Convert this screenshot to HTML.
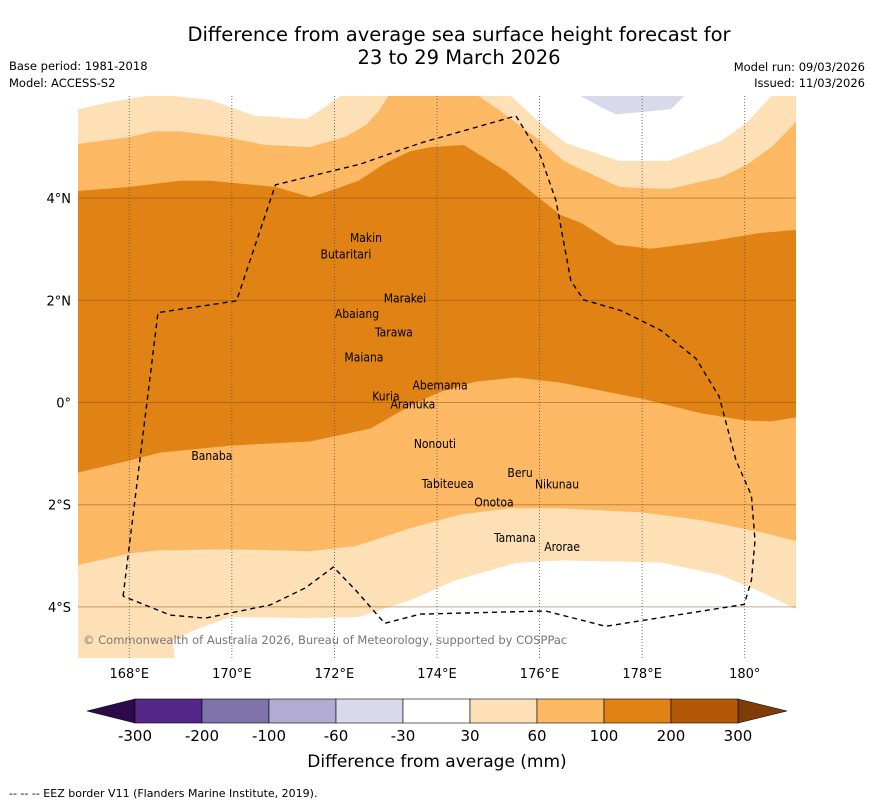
<!DOCTYPE html>
<html><head><meta charset="utf-8">
<style>
html,body{margin:0;padding:0;background:#fff;}
body{width:873px;height:804px;overflow:hidden;font-family:"DejaVu Sans","Liberation Sans",sans-serif;}
svg{display:block;}
</style></head>
<body>
<svg id="chart" width="873" height="804" viewBox="0 0 873 804">
<text x="459" y="41" font-size="19.5" text-anchor="middle" fill="#000">Difference from average sea surface height forecast for</text>
<text x="459" y="64" font-size="19.5" text-anchor="middle" fill="#000">23 to 29 March 2026</text>
<text x="9" y="70" font-size="11.5">Base period: 1981-2018</text>
<text x="9" y="87" font-size="11.5">Model: ACCESS-S2</text>
<text x="865" y="71" font-size="11.5" text-anchor="end">Model run: 09/03/2026</text>
<text x="865" y="87" font-size="11.5" text-anchor="end">Issued: 11/03/2026</text>
<defs><clipPath id="mapclip"><rect x="78" y="96" width="718" height="562"/></clipPath></defs>
<g id="map" clip-path="url(#mapclip)">
<rect x="78" y="96" width="718" height="562" fill="#fff"/>
</g>
<text x="83" y="644" font-size="11.5" fill="#777">© Commonwealth of Australia 2026, Bureau of Meteorology, supported by COSPPac</text>
<g id="axes"></g>
<g id="colorbar"></g>
<text x="437" y="767" font-size="17" text-anchor="middle">Difference from average (mm)</text>
<text x="9" y="797" font-size="11">--  --  -- EEZ border V11 (Flanders Marine Institute, 2019).</text>
</svg>
<script>
const lonMin = 167, lonMax = 181, latMin = -5, latMax = 6;
const xTicks = [168, 170, 172, 174, 176, 178, 180];
const xTickLabels = ["168°E", "170°E", "172°E", "174°E", "176°E", "178°E", "180°"];
const yTicks = [4, 2, 0, -2, -4];
const yTickLabels = ["4°N", "2°N", "0°", "2°S", "4°S"];
const paleTop = [[167,5.74],[167.63,5.88],[168.31,6],[168.89,6],[169.58,5.92],[170.46,5.61],[171.47,5.55],[172.12,6],[175.44,6],[176.02,5.47],[176.51,5.08],[177.55,4.73],[178.52,4.73],[179.54,5.12],[180.03,5.47],[180.52,6],[181,6]];
const paleBottom = [[167,-5],[168.89,-5],[168.84,-4.65],[169.38,-4.41],[169.97,-4.2],[171.53,-4.22],[172.47,-4.2],[173.48,-3.87],[174.36,-3.48],[175.54,-3.14],[176.41,-3.09],[178.37,-3.13],[179.54,-3.38],[180.32,-3.71],[181,-4.04]];
const lightTop = [[167,5.06],[168.02,5.2],[168.5,5.31],[168.99,5.31],[169.97,5.18],[170.65,5.04],[171.53,5.0],[172.21,5.2],[172.61,5.43],[172.86,5.7],[173.05,6],[174.81,6],[175.24,5.7],[176.02,5.12],[176.47,4.73],[176.8,4.57],[177.55,4.22],[178.52,4.18],[179.54,4.41],[180.03,4.65],[180.52,5.0],[181,5.49]];
const lightBottom = [[167,-3.18],[168.02,-2.95],[168.6,-2.89],[169.97,-2.87],[171.53,-2.91],[172.41,-2.81],[173.48,-2.46],[174.46,-2.19],[175.44,-2.07],[176.41,-2.07],[177.98,-2.15],[179.15,-2.3],[180.32,-2.54],[181,-2.71]];
const darkTop = [[167,4.14],[168.02,4.22],[168.99,4.34],[169.58,4.34],[170.85,4.22],[171.53,4.02],[172.02,4.18],[172.47,4.34],[173.0,4.69],[173.48,4.92],[173.88,5.0],[174.52,5.04],[175.34,4.53],[176.02,3.98],[176.41,3.67],[176.8,3.52],[177.49,3.09],[178.17,3.01],[179.34,3.16],[180.32,3.32],[181,3.38]];
const darkBottom = [[167,-1.37],[168.02,-1.13],[168.6,-0.98],[170.0,-0.84],[171.53,-0.76],[172.7,-0.51],[173.48,-0.06],[174.07,0.21],[174.75,0.41],[175.54,0.49],[176.41,0.39],[177.98,0.08],[179.15,-0.21],[180.0,-0.35],[180.52,-0.37],[181,-0.29]];
const lavender = [[176.8,6],[178.82,6],[178.56,5.74],[177.49,5.64],[177.2,5.78]];
const eez = [[167.88,-3.79],[168.56,1.76],[170.09,1.99],[170.85,4.26],[172.51,4.67],[173.68,5.08],[175.54,5.61],[176.02,4.82],[176.32,3.95],[176.61,2.38],[176.86,2.01],[177.59,1.8],[178.37,1.41],[179.05,0.86],[179.5,0.12],[179.83,-1.13],[180.13,-1.82],[180.2,-2.7],[180.13,-3.48],[179.99,-3.95],[177.29,-4.38],[176.12,-4.08],[173.68,-4.14],[172.98,-4.32],[172.41,-3.67],[171.98,-3.22],[171.43,-3.63],[170.75,-3.96],[169.48,-4.22],[168.8,-4.16],[167.88,-3.79]];
const islandNames = ["Makin","Butaritari","Marakei","Abaiang","Tarawa","Maiana","Abemama","Kuria","Aranuka","Banaba","Nonouti","Beru","Tabiteuea","Nikunau","Onotoa","Tamana","Arorae"];
const islandLon = [172.615,172.225,173.375,172.44,173.16,172.575,174.06,173.005,173.53,169.61,173.96,175.62,174.21,176.34,175.11,175.52,176.44];
const islandLat = [3.22,2.9,2.04,1.73,1.37,0.88,0.33,0.12,-0.04,-1.05,-0.81,-1.38,-1.59,-1.6,-1.96,-2.65,-2.83];
const cbLabels = ["-300","-200","-100","-60","-30","30","60","100","200","300"];
const cbColors = ["#542788","#8073ac","#b2abd2","#d8daeb","#ffffff","#fee0b6","#fdb863","#e08214","#b35806"];

const NS = "http://www.w3.org/2000/svg";
const X0 = 78, X1 = 796, Y0 = 96, Y1 = 658;
function xs(lon){ return X0 + (lon - lonMin) / (lonMax - lonMin) * (X1 - X0); }
function ys(lat){ return Y0 + (latMax - lat) / (latMax - latMin) * (Y1 - Y0); }
function mk(tag, attrs, parent){ const e = document.createElementNS(NS, tag); for (const k in attrs) e.setAttribute(k, attrs[k]); parent.appendChild(e); return e; }
function bandPts(top, bottom){
  const a = top.map(p => xs(p[0]).toFixed(1) + "," + ys(p[1]).toFixed(1));
  const b = bottom.slice().reverse().map(p => xs(p[0]).toFixed(1) + "," + ys(p[1]).toFixed(1));
  return a.concat(b).join(" ");
}
const map = document.getElementById("map");
let el;
el = mk("polygon", {points: bandPts(paleTop, paleBottom), fill: "#fee0b6"}, map);


el = mk("polygon", {points: bandPts(lightTop, lightBottom), fill: "#fdb863"}, map);


el = mk("polygon", {points: bandPts(darkTop, darkBottom), fill: "#e08214"}, map);


el = mk("polygon", {points: lavender.map(p => xs(p[0]) + "," + ys(p[1])).join(" "), fill: "#d8daeb"}, map);


xTicks.forEach(v => {
  el = mk("line", {x1: xs(v), x2: xs(v), y1: Y0, y2: Y1, stroke: "#555", "stroke-width": 0.8, "stroke-dasharray": "1,2"}, map);
  
  
});
yTicks.forEach(v => {
  el = mk("line", {x1: X0, x2: X1, y1: ys(v), y2: ys(v), stroke: "#7a4a10", "stroke-opacity": 0.45, "stroke-width": 1}, map);
  
  
});
el = mk("polyline", {points: eez.map(p => xs(p[0]).toFixed(1) + "," + ys(p[1]).toFixed(1)).join(" "), fill: "none", stroke: "#000", "stroke-width": 1.4, "stroke-dasharray": "5,4"}, map);


islandNames.forEach((n, i) => {
  const t = mk("text", {x: xs(islandLon[i]), y: ys(islandLat[i]) + 4, "font-size": 12, "font-family": "'DejaVu Sans Condensed','DejaVu Sans',sans-serif", "text-anchor": "middle", fill: "#000"}, map);
  t.textContent = n;
  
  
});
const axes = document.getElementById("axes");
xTicks.forEach((v, i) => {
  const t = mk("text", {x: xs(v), y: 678, "font-size": 13, "text-anchor": "middle"}, axes);
  t.textContent = xTickLabels[i];
  
  
});
yTicks.forEach((v, i) => {
  const t = mk("text", {x: 71, y: ys(v) + 5, "font-size": 13, "text-anchor": "end"}, axes);
  t.textContent = yTickLabels[i];
  
  
});
const cb = document.getElementById("colorbar");
const cbX0 = 135, cbX1 = 738, cbY0 = 699, cbY1 = 723;
const bw = (cbX1 - cbX0) / cbColors.length;
el = mk("polygon", {points: `${cbX0},${cbY0} 87,${(cbY0+cbY1)/2} ${cbX0},${cbY1}`, fill: "#2d0a4a", stroke: "#000", "stroke-width": 0.6}, cb);


el = mk("polygon", {points: `${cbX1},${cbY0} 787,${(cbY0+cbY1)/2} ${cbX1},${cbY1}`, fill: "#7f3b08", stroke: "#000", "stroke-width": 0.6}, cb);


cbColors.forEach((c, i) => {
  const r = mk("rect", {x: cbX0 + i * bw, y: cbY0, width: bw, height: cbY1 - cbY0, fill: c, stroke: "#000", "stroke-width": 0.6}, cb);
  
  
});
cbLabels.forEach((l, i) => {
  const t = mk("text", {x: cbX0 + i * bw, y: 741, "font-size": 15, "text-anchor": "middle"}, cb);
  t.textContent = l;
  
  
});
</script>
</body></html>
